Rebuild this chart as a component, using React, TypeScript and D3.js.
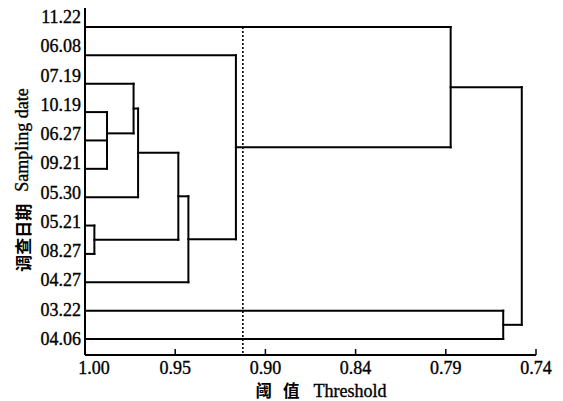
import React from "react";
import * as d3 from "d3";

const leaves = ["11.22", "06.08", "07.19", "10.19", "06.27", "09.21", "05.30", "05.21", "08.27", "04.27", "03.22", "04.06"];

// [id, childA, childB, similarity level]
const merges: [string, string, string, number][] = [
  ["m1", "06.27", "09.21", 0.9873],
  ["m2", "10.19", "m1", 0.9873],
  ["m3", "07.19", "m2", 0.972],
  ["m4", "m3", "05.30", 0.9694],
  ["m5", "05.21", "08.27", 0.9946],
  ["m6", "m4", "m5", 0.9462],
  ["m7", "m6", "04.27", 0.9404],
  ["m8", "06.08", "m7", 0.913],
  ["m9", "11.22", "m8", 0.7892],
  ["m10", "03.22", "04.06", 0.7589],
  ["m11", "m9", "m10", 0.7482],
];

const tickValues = [1.0, 0.948, 0.896, 0.844, 0.792, 0.74];
const threshold = 0.909;

const W = 563;
const H = 401;
const SERIF = "'Liberation Serif', 'DejaVu Serif', serif";
const CJK = "'Noto Sans CJK SC', sans-serif";

export default function App() {
  const x = d3.scaleLinear().domain([1.0, 0.74]).range([85, 536]);
  const yLine = d3.scalePoint<string>().domain(leaves).range([27, 339]);
  const yLabel = d3.scalePoint<string>().domain(leaves).range([17, 339]);
  const axisY = 355;
  const axisTop = 8;
  const fmt = d3.format(".2f");

  const pos: Record<string, { x: number; y: number }> = {};
  leaves.forEach((l) => (pos[l] = { x: x(1.0), y: yLine(l)! }));
  const segs: { x1: number; y1: number; x2: number; y2: number }[] = [];
  merges.forEach(([id, a, b, lv]) => {
    const pa = pos[a];
    const pb = pos[b];
    const nx = x(lv);
    const ny = (pa.y + pb.y) / 2;
    pos[id] = { x: nx, y: ny };
    segs.push({ x1: pa.x, y1: pa.y, x2: nx, y2: pa.y });
    segs.push({ x1: pb.x, y1: pb.y, x2: nx, y2: pb.y });
    segs.push({ x1: nx, y1: pa.y, x2: nx, y2: pb.y });
  });

  const textStroke = { stroke: "#000", strokeWidth: 0.35 };

  return (
    <svg
      width={W}
      height={H}
      viewBox={`0 0 ${W} ${H}`}
      style={{ position: "absolute", left: 0, top: 0, background: "#fff" }}
    >
      <rect x={0} y={0} width={W} height={H} fill="#fff" />
      {/* dendrogram */}
      <g stroke="#000" strokeWidth={2} strokeLinecap="square" fill="none">
        {segs.map((s, i) => (
          <line key={i} x1={s.x1} y1={s.y1} x2={s.x2} y2={s.y2} />
        ))}
      </g>
      {/* threshold dotted line */}
      <line
        x1={x(threshold)}
        x2={x(threshold)}
        y1={yLine(leaves[0])!}
        y2={axisY}
        stroke="#000"
        strokeWidth={1.6}
        strokeDasharray="2,2"
      />
      {/* axes */}
      <g stroke="#000" strokeWidth={2} fill="none">
        <line x1={x(1.0)} x2={x(1.0)} y1={axisTop} y2={axisY} />
        <line x1={x(1.0)} x2={x(0.74)} y1={axisY} y2={axisY} />
        {tickValues.map((t, i) => (
          <line key={i} x1={x(t)} x2={x(t)} y1={axisY} y2={axisY - 6} strokeWidth={1.5} />
        ))}
      </g>
      {/* x tick labels */}
      <g fontFamily={SERIF} fontSize={18} fill="#000" textAnchor="middle" {...textStroke}>
        {tickValues.map((t, i) => (
          <text key={i} x={x(t) + (i === 0 ? 9 : 0)} y={374}>
            {fmt(t)}
          </text>
        ))}
      </g>
      {/* leaf labels */}
      <g fontFamily={SERIF} fontSize={18} fill="#000" textAnchor="end" {...textStroke}>
        {leaves.map((l) => (
          <text key={l} x={81} y={yLabel(l)! + 6}>
            {l}
          </text>
        ))}
      </g>
      {/* x axis title */}
      <text x={321} y={397} textAnchor="middle" fill="#000" fontSize={16.5}>
        <tspan fontFamily={CJK} fontWeight={700}>阈</tspan>
        <tspan fontFamily={CJK} fontWeight={700} dx={11}>值</tspan>
        <tspan fontFamily={SERIF} fontSize={18} dx={14} {...textStroke}>Threshold</tspan>
      </text>
      {/* y axis title */}
      <text
        transform="translate(22,180) rotate(-90)"
        textAnchor="middle"
        dominantBaseline="central"
        fill="#000"
        fontSize={18}
      >
        <tspan fontFamily={CJK} fontWeight={700} fontSize={17}>调查日期</tspan>
        <tspan fontFamily={SERIF} dx={12} {...textStroke}>Sampling date</tspan>
      </text>
    </svg>
  );
}
